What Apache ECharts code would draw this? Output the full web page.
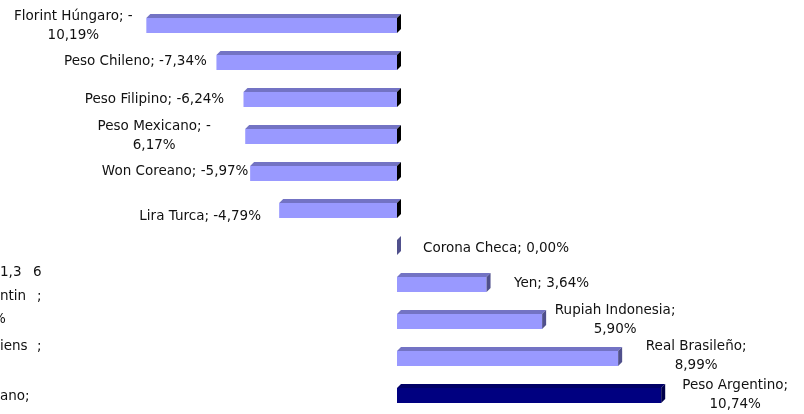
<!DOCTYPE html>
<html>
<head>
<meta charset="utf-8">
<script src="https://cdn.jsdelivr.net/npm/echarts@6/dist/echarts.min.js"></script>
<style>
  html, body { margin: 0; padding: 0; background: #fff; }
  #myChart { width: 804px; height: 414px; }
</style>
</head>
<body>
<div id="myChart"></div>
<script>
  // monedas, de arriba hacia abajo
  var monedas = ['Florint Húngaro', 'Peso Chileno', 'Peso Filipino', 'Peso Mexicano', 'Won Coreano',
    'Lira Turca', 'Corona Checa', 'Yen', 'Rupiah Indonesia', 'Real Brasileño', 'Peso Argentino'];
  var variacion = [-10.19, -7.34, -6.24, -6.17, -5.97, -4.79, 0.00, 3.64, 5.90, 8.99, 10.74];
  var destacada = 'Peso Argentino';

  // ajuste de etiquetas: desplazamiento desde el extremo de la barra y salto de linea
  var etiquetaDx = [-73, -81, -89, -91, -75, -79, 99, 65, 73, 78, 74];
  var etiquetaDy = [0, -1.5, -0.5, -0.5, -2, 5.5, 1, -1.5, -2, -3, -1];
  var etiquetaCorte = [true, false, false, true, false, false, false, false, true, true, true];

  // restos de etiquetas de otro grafico que asoman por la izquierda
  var restos = [
    {t: '1,3', x: 0, y: 273}, {t: '6', x: 33, y: 273},
    {t: 'ntin', x: 0, y: 297}, {t: ';', x: 37, y: 297},
    {t: '%', x: -7, y: 320},
    {t: 'iens', x: 0, y: 347}, {t: ';', x: 37, y: 347},
    {t: 'ano;', x: 0, y: 397}
  ];

  function fmt(v) {
    return v.toFixed(2).replace('.', ',') + '%';
  }

  function textoEtiqueta(i) {
    var v = variacion[i];
    if (!etiquetaCorte[i]) return monedas[i] + '; ' + fmt(v);
    if (v < 0) return monedas[i] + '; -\n' + fmt(-v);
    return monedas[i] + ';\n' + fmt(v);
  }

  var font = '13.5px "DejaVu Sans"';

  function renderItem(params, api) {
    var v = api.value(0);
    var idx = api.value(1);
    var p0 = api.coord([0, idx]);
    var p1 = api.coord([v, idx]);
    var cy = p0[1];
    var xl = Math.min(p0[0], p1[0]);
    var xr = Math.max(p0[0], p1[0]);
    var h = 15, d = 4;
    var top = cy - h / 2, bot = cy + h / 2;
    var oscura = monedas[idx] === destacada;
    var cFrente = oscura ? '#000080' : '#9999ff';
    var cArriba = oscura ? '#000066' : '#7373c4';
    var cLado = v < 0 ? '#000000' : (oscura ? '#00004a' : '#50508c');
    var hijos = [];
    if (xr - xl > 0.5) {
      hijos.push({type: 'rect', shape: {x: xl, y: top, width: xr - xl, height: h}, style: {fill: cFrente}});
      hijos.push({type: 'polygon', shape: {points: [[xl, top], [xr, top], [xr + d, top - d], [xl + d, top - d]]},
        style: {fill: cArriba}});
    }
    hijos.push({type: 'polygon', shape: {points: [[xr, top], [xr + d, top - d], [xr + d, bot - d], [xr, bot]]},
      style: {fill: cLado}});
    var ancla = v < 0 ? xl : xr;
    hijos.push({
      type: 'text',
      style: {
        text: textoEtiqueta(idx),
        x: ancla + etiquetaDx[idx],
        y: cy + etiquetaDy[idx],
        align: 'center',
        verticalAlign: 'middle',
        font: font,
        lineHeight: 19,
        fill: '#111'
      }
    });
    return {type: 'group', children: hijos};
  }

  var myChart = echarts.init(document.getElementById('myChart'));
  var xMin = -397 / 24.6, xMax = 407 / 24.6;

  myChart.setOption({
    animation: false,
    backgroundColor: '#ffffff',
    grid: {left: 0, right: 0, top: 7, bottom: 0},
    xAxis: {type: 'value', min: xMin, max: xMax, show: false},
    yAxis: {type: 'category', data: monedas, inverse: true, show: false},
    series: [{
      type: 'custom',
      renderItem: renderItem,
      encode: {x: 0, y: 1},
      data: variacion.map(function (v, i) { return [v, i]; })
    }],
    graphic: restos.map(function (r) {
      return {type: 'text', left: r.x, top: r.y - 8,
        style: {text: r.t, font: font, fill: '#111'}};
    })
  });
</script>
</body>
</html>
